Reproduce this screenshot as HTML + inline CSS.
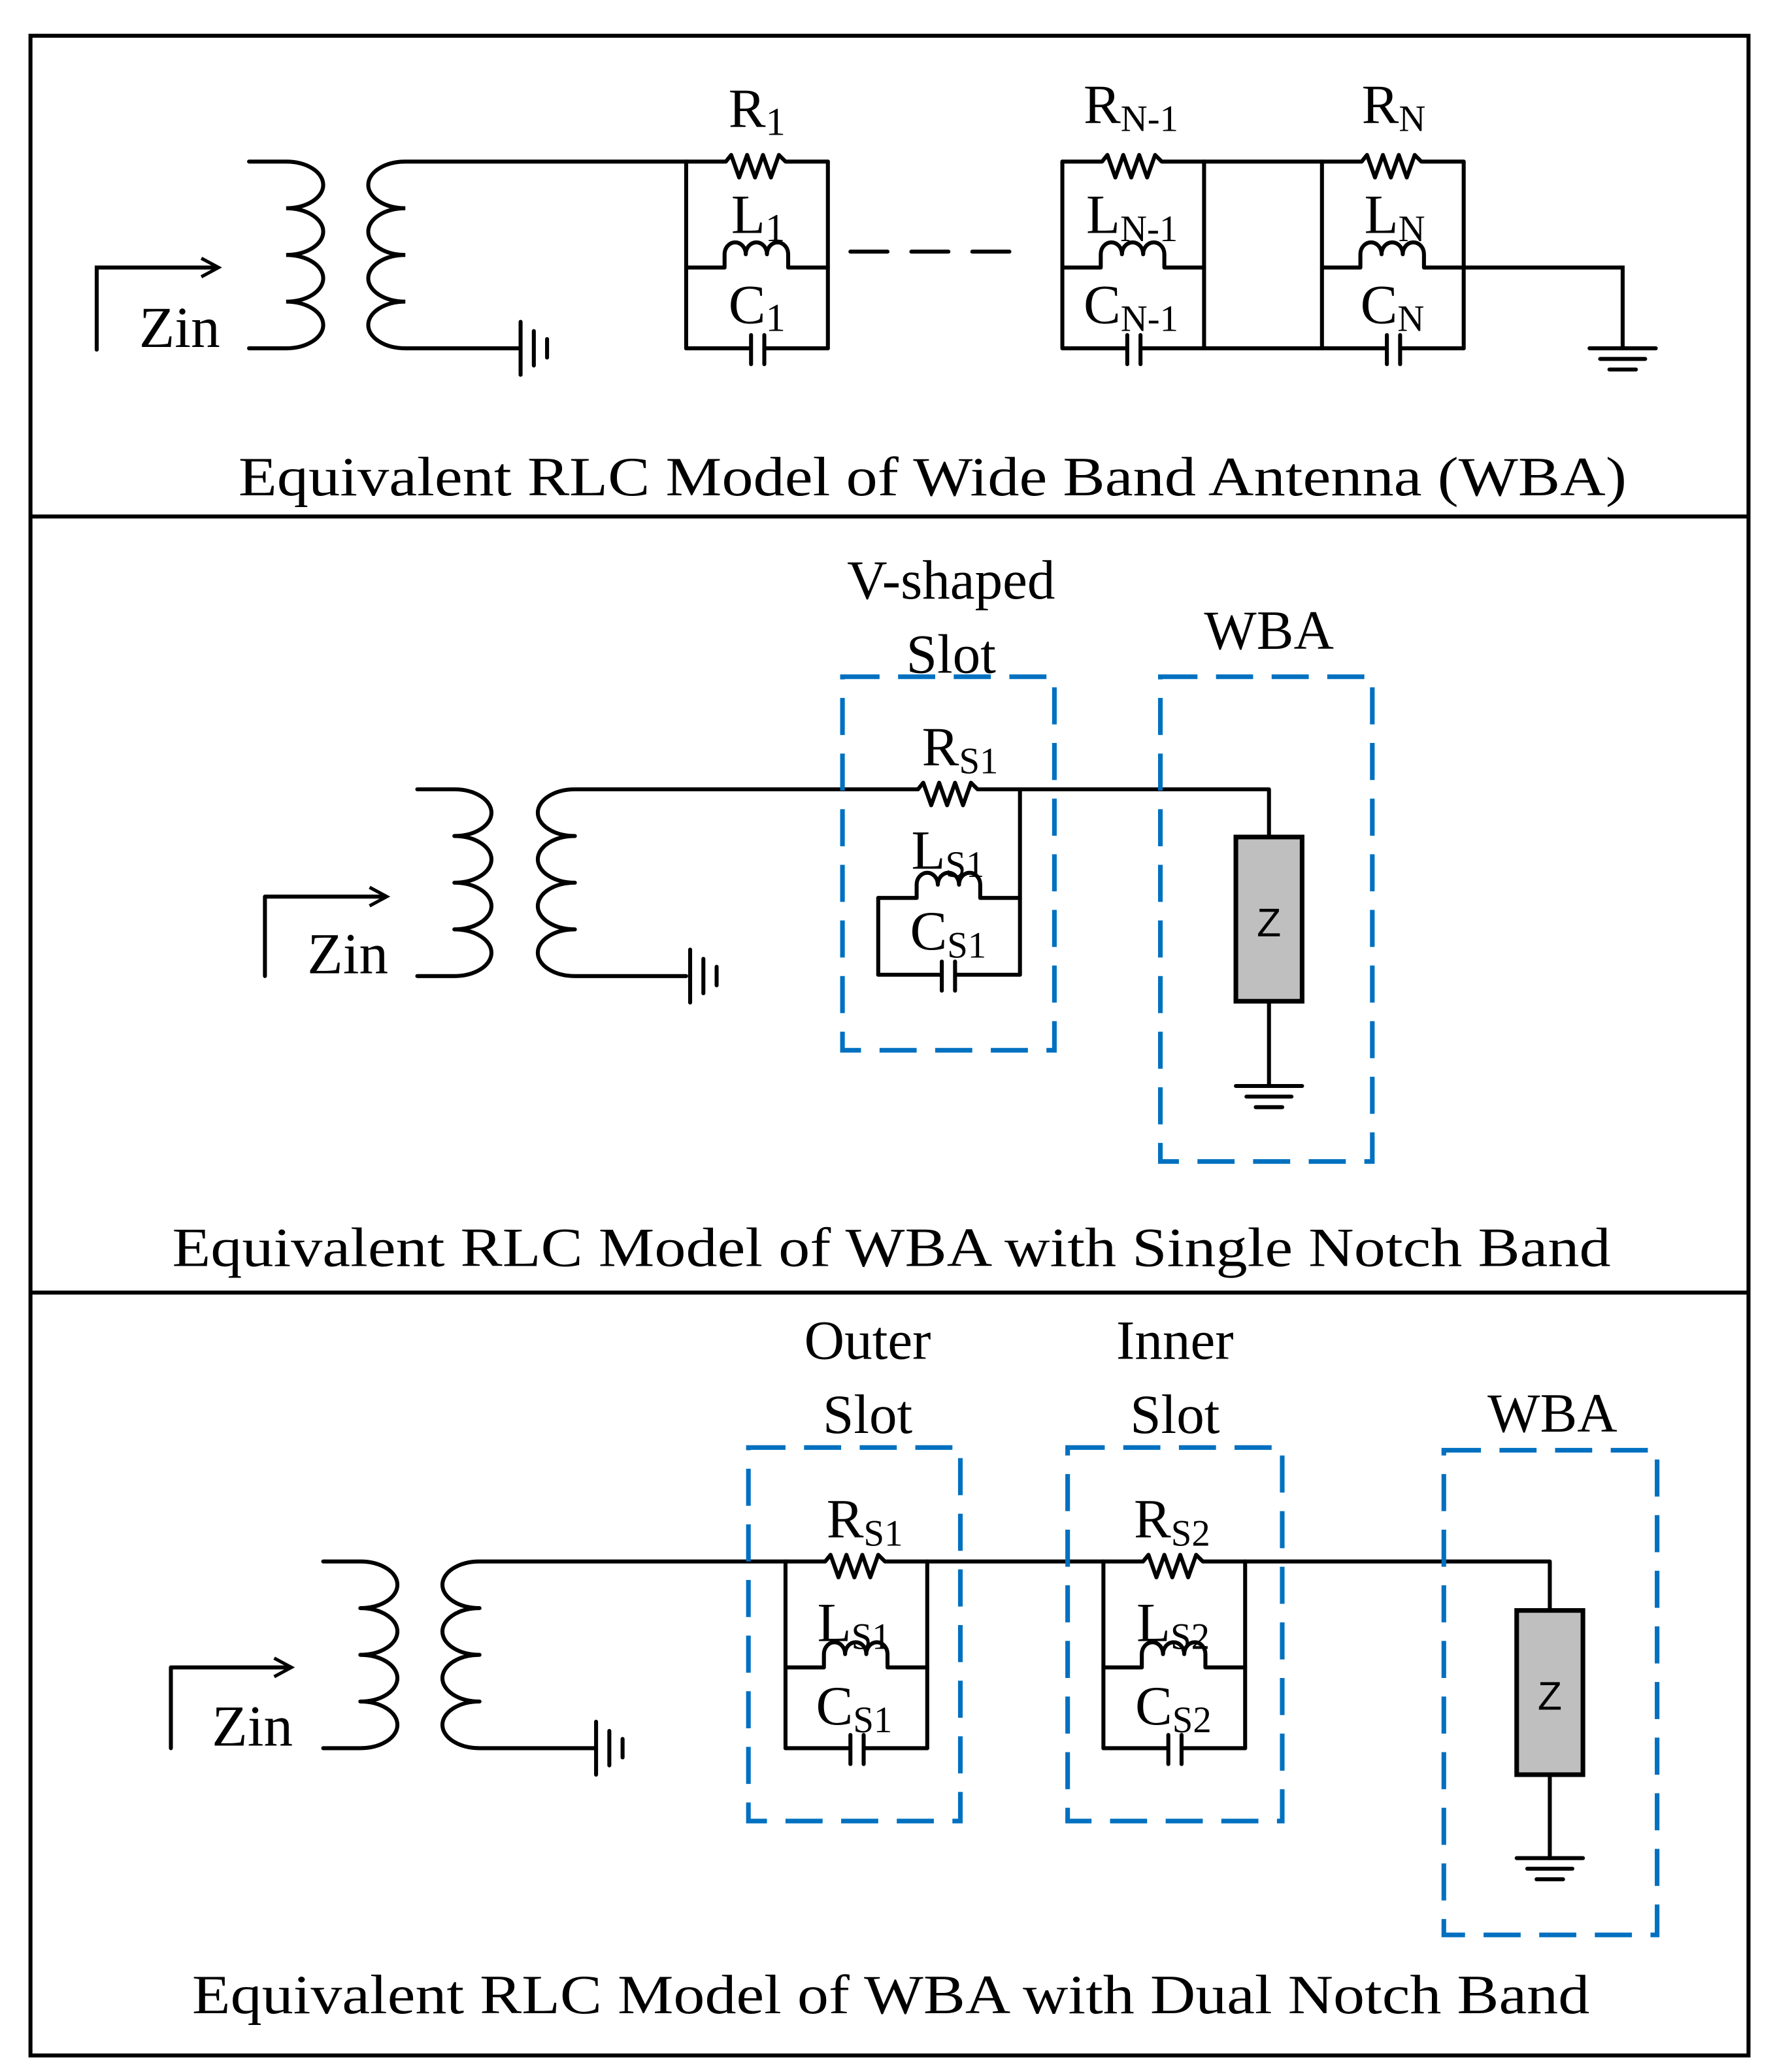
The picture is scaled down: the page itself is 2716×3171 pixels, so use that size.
<!DOCTYPE html>
<html><head><meta charset="utf-8"><style>html,body{margin:0;padding:0;background:#fff}svg{display:block}</style></head>
<body>
<svg xmlns="http://www.w3.org/2000/svg" width="2716" height="3171" viewBox="0 0 1340 1564.5">
<defs>
<g id="blk" fill="none" stroke="#000" stroke-width="3" stroke-linejoin="round" stroke-linecap="round">
  <path d="M0 0 V141 M107 0 V141"/>
  <path d="M0 0 H30 L34 -5 L40 12 L46 -5 L52 12 L58 -5 L64 12 L70 -5 L75 0 H107"/>
  <path d="M0 80 H29 V70 a8 9 0 0 1 16 0 a8 9 0 0 1 16 0 a8 9 0 0 1 16 0 V80 H107"/>
  <path d="M0 141 H49 M59 141 H107 M49 131 V153 M59 131 V153"/>
</g>
<g id="gnd" stroke="#000" stroke-width="3" stroke-linecap="round">
  <path d="M-25 0 H25 M-17 8 H17 M-10 16 H10"/>
</g>
<g id="gndv" stroke="#000" stroke-width="3" stroke-linecap="round">
  <path d="M0 -20 V20 M10 -13 V13 M20 -7 V7"/>
</g>
</defs>
<g fill="none" stroke="#000" stroke-width="3">
  <rect x="23" y="27" width="1297" height="1525"/>
  <path d="M23 390 H1320 M23 976 H1320"/>
</g>

<g font-family="Liberation Serif, serif" fill="#000">
<!-- Panel 1 -->
<g fill="none" stroke="#000" stroke-width="3" stroke-linecap="round">
  <path d="M73 264 V202 H163"/>
  <path d="M188 122 H216 a28 17.625 0 0 1 0 35.25 a28 17.625 0 0 1 0 35.25 a28 17.625 0 0 1 0 35.25 a28 17.625 0 0 1 0 35.25 H188"/>
  <path d="M518 122 H306 a28 17.625 0 0 0 0 35.25 a28 17.625 0 0 0 0 35.25 a28 17.625 0 0 0 0 35.25 a28 17.625 0 0 0 0 35.25 H393"/>
  <path d="M642 190 H780" stroke-dasharray="28 18"/>
  <path d="M909 122 H998 M909 263 H998 M1105 202 H1225 V263"/>
</g>
<path d="M152 195 L165 202 L152 209" fill="none" stroke="#000" stroke-width="2.5"/>
<use href="#gndv" x="393" y="263"/>
<use href="#gnd" x="1225" y="263"/>
<use href="#blk" x="518" y="122"/>
<use href="#blk" x="802" y="122"/>
<use href="#blk" x="998" y="122"/>
<text x="105" y="262" font-size="44">Zin</text>
<text x="550" y="96" font-size="42">R<tspan font-size="30" dy="6">1</tspan></text>
<text x="552" y="176" font-size="42">L<tspan font-size="30" dy="6">1</tspan></text>
<text x="550" y="244" font-size="42">C<tspan font-size="30" dy="6">1</tspan></text>
<text x="818" y="93" font-size="42">R<tspan font-size="28" dy="6">N-1</tspan></text>
<text x="820" y="176" font-size="42">L<tspan font-size="28" dy="6">N-1</tspan></text>
<text x="818" y="244" font-size="42">C<tspan font-size="28" dy="6">N-1</tspan></text>
<text x="1028" y="93" font-size="42">R<tspan font-size="28" dy="6">N</tspan></text>
<text x="1030" y="176" font-size="42">L<tspan font-size="28" dy="6">N</tspan></text>
<text x="1027" y="244" font-size="42">C<tspan font-size="28" dy="6">N</tspan></text>
<text x="180" y="374" font-size="42" textLength="1048" lengthAdjust="spacingAndGlyphs">Equivalent RLC Model of Wide Band Antenna (WBA)</text>

<!-- Panel 2 -->
<g fill="none" stroke="#000" stroke-width="3" stroke-linecap="round" stroke-linejoin="round">
  <path d="M200 737 V677 H290"/>
  <path d="M315 596 H343 a28 17.625 0 0 1 0 35.25 a28 17.625 0 0 1 0 35.25 a28 17.625 0 0 1 0 35.25 a28 17.625 0 0 1 0 35.25 H315"/>
  <path d="M693 596 H434 a28 17.625 0 0 0 0 35.25 a28 17.625 0 0 0 0 35.25 a28 17.625 0 0 0 0 35.25 a28 17.625 0 0 0 0 35.25 H518"/>
  <path d="M693 596 L697 591 L703 608 L709 591 L715 608 L721 591 L727 608 L733 591 L738 596 H958 V632"/>
  <path d="M770 596 V736 M663 678 V736"/>
  <path d="M663 678 H692 V668 a8 9 0 0 1 16 0 a8 9 0 0 1 16 0 a8 9 0 0 1 16 0 V678 H770"/>
  <path d="M663 736 H711 M721 736 H770 M711 726 V748 M721 726 V748"/>
  <path d="M958 756 V820"/>
</g>
<path d="M279 670 L292 677 L279 684" fill="none" stroke="#000" stroke-width="2.5"/>
<use href="#gndv" x="521" y="737"/>
<use href="#gnd" x="958" y="820"/>
<rect x="933" y="632" width="50" height="124" fill="#bfbfbf" stroke="#000" stroke-width="3.5"/>
<text x="958" y="707" font-size="30" font-family="Liberation Sans, sans-serif" text-anchor="middle">Z</text>
<g fill="none" stroke="#0070c0" stroke-width="3.5" stroke-dasharray="28 14">
  <rect x="636" y="511" width="160" height="282"/>
  <rect x="876" y="511" width="160" height="366"/>
</g>
<text x="232" y="735" font-size="44">Zin</text>
<text x="718" y="452" font-size="42" text-anchor="middle">V-shaped</text>
<text x="718" y="508" font-size="42" text-anchor="middle">Slot</text>
<text x="958" y="490" font-size="42" text-anchor="middle">WBA</text>
<text x="696" y="578" font-size="42">R<tspan font-size="28" dy="6">S1</tspan></text>
<text x="688" y="656" font-size="42">L<tspan font-size="28" dy="6">S1</tspan></text>
<text x="687" y="717" font-size="42">C<tspan font-size="28" dy="6">S1</tspan></text>
<text x="130" y="956" font-size="42" textLength="1086" lengthAdjust="spacingAndGlyphs">Equivalent RLC Model of WBA with Single Notch Band</text>

<!-- Panel 3 -->
<g fill="none" stroke="#000" stroke-width="3" stroke-linecap="round" stroke-linejoin="round">
  <path d="M129 1320 V1259 H218"/>
  <path d="M244 1179 H272 a28 17.625 0 0 1 0 35.25 a28 17.625 0 0 1 0 35.25 a28 17.625 0 0 1 0 35.25 a28 17.625 0 0 1 0 35.25 H244"/>
  <path d="M593 1179 H362 a28 17.625 0 0 0 0 35.25 a28 17.625 0 0 0 0 35.25 a28 17.625 0 0 0 0 35.25 a28 17.625 0 0 0 0 35.25 H450"/>
  <path d="M700 1179 H833 M940 1179 H1170 V1216 M1170 1340 V1403"/>
</g>
<path d="M207 1252 L220 1259 L207 1266" fill="none" stroke="#000" stroke-width="2.5"/>
<use href="#gndv" x="450" y="1320"/>
<use href="#gnd" x="1170" y="1403"/>
<use href="#blk" x="593" y="1179"/>
<use href="#blk" x="833" y="1179"/>
<rect x="1145" y="1216" width="50" height="124" fill="#bfbfbf" stroke="#000" stroke-width="3.5"/>
<text x="1170" y="1291" font-size="30" font-family="Liberation Sans, sans-serif" text-anchor="middle">Z</text>
<g fill="none" stroke="#0070c0" stroke-width="3.5" stroke-dasharray="28 14">
  <rect x="565" y="1093" width="160" height="282"/>
  <rect x="806" y="1093" width="162" height="282"/>
  <rect x="1090" y="1095" width="161" height="366"/>
</g>
<text x="160" y="1318" font-size="44">Zin</text>
<text x="655" y="1026" font-size="42" text-anchor="middle">Outer</text>
<text x="655" y="1082" font-size="42" text-anchor="middle">Slot</text>
<text x="887" y="1026" font-size="42" text-anchor="middle">Inner</text>
<text x="887" y="1082" font-size="42" text-anchor="middle">Slot</text>
<text x="1172" y="1081" font-size="42" text-anchor="middle">WBA</text>
<text x="624" y="1161" font-size="42">R<tspan font-size="28" dy="6">S1</tspan></text>
<text x="617" y="1239" font-size="42">L<tspan font-size="28" dy="6">S1</tspan></text>
<text x="616" y="1302" font-size="42">C<tspan font-size="28" dy="6">S1</tspan></text>
<text x="856" y="1161" font-size="42">R<tspan font-size="28" dy="6">S2</tspan></text>
<text x="858" y="1239" font-size="42">L<tspan font-size="28" dy="6">S2</tspan></text>
<text x="857" y="1302" font-size="42">C<tspan font-size="28" dy="6">S2</tspan></text>
<text x="145" y="1520" font-size="42" textLength="1055" lengthAdjust="spacingAndGlyphs">Equivalent RLC Model of WBA with Dual Notch Band</text>
</g>
</svg>
</body></html>
